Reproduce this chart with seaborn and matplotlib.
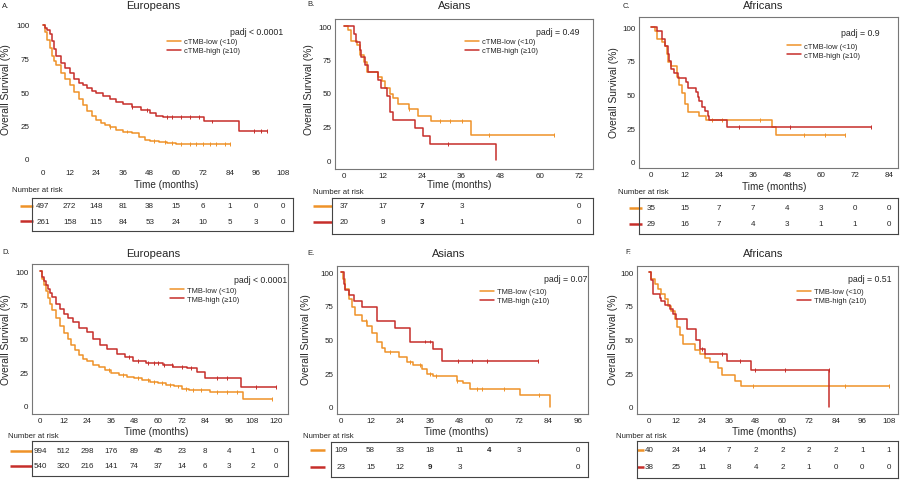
import numpy as np
import pandas as pd
import matplotlib
matplotlib.use("Agg")
import matplotlib.pyplot as plt
import seaborn as sns

sns.set_style("white")
plt.rcParams["font.family"] = ["Liberation Sans", "DejaVu Sans"]

ORANGE = "#EF9228"
RED = "#C62E2A"
W, H = 900, 481

# %% curves (time in months, survival in %)
# A. Europeans, cTMB
A_low_t = [0, 1, 2, 3, 4, 5, 6, 8, 10, 12, 14, 16, 18, 20, 22, 24, 26, 28, 30, 33, 36, 40, 43, 46, 48, 52, 56, 60, 84]
A_low_s = [100, 95, 89, 83, 77, 73, 70, 64, 60, 55, 50, 45, 40, 36, 32, 29, 27, 25.5, 24, 22, 20.5, 19.5, 16.5, 14.5, 13.5, 12.8, 12, 11.5, 11.5]
A_high_t = [0, 1, 2, 3, 4, 5, 6, 8, 10, 12, 14, 16, 18, 20, 22, 24, 27, 30, 33, 36, 40, 44, 48, 51, 54, 72.4, 88, 101]
A_high_s = [100, 98, 96, 93, 88, 82, 77, 72, 68, 64, 60, 57, 55, 53, 51, 49.5, 47, 44.5, 42.5, 41, 38.5, 36.5, 34, 32, 31, 28, 20.6, 20.6]
A_low_cens = [30, 38, 50, 55, 58, 62, 66, 69, 72, 75, 78, 82, 84]
A_high_cens = [40, 47, 56, 58, 62, 66, 70, 76, 95, 98, 101]

# B. Asians, cTMB
B_low_t = [0, 1.2, 2, 4, 5, 6, 7, 10.4, 11.5, 12.5, 14, 15, 16.5, 20, 22.7, 26.8, 38.8, 64.3]
B_low_s = [100, 97, 89, 86, 78, 73, 66, 62, 59, 54, 49, 46, 42, 38, 33, 29, 19, 19]
B_high_t = [0, 3, 3.8, 4.8, 5.3, 6.3, 7.4, 10.4, 11.4, 13.3, 14, 14.9, 21.7, 24.1, 26.3, 46.7, 46.7]
B_high_s = [100, 94, 88, 82, 77, 71, 66, 60, 54, 48, 36, 30, 24, 18, 12, 12, 0]
B_low_cens = [20, 29.5, 32.5, 36, 44.5, 64.3]
B_high_cens = [31.8]

# C. Africans, cTMB
C_low_t = [0, 1.5, 2, 4, 5, 5.5, 6, 7, 9, 10, 11, 12, 13, 16.8, 19.5, 42.7, 44, 68.6]
C_low_s = [100, 97, 91, 89, 86, 80, 74, 71, 63, 57, 51, 43, 37, 34, 31, 26, 20, 20]
C_high_t = [0, 2, 4, 5, 6, 6.5, 7, 8, 9.5, 12.5, 13, 16, 16.5, 17, 18, 19, 20, 20.5, 26.9, 77.6]
C_high_s = [100, 97, 91, 86, 80, 75, 69, 66, 62, 59, 55, 52, 48, 45, 41, 38, 34, 31, 26, 26]
C_low_cens = [21.5, 25, 38.5, 54, 61.5, 68.6]
C_high_cens = [31, 49, 77.6]

# D. Europeans, TMB
D_low_t = [0, 1, 2, 3, 4, 5, 6, 8, 10, 12, 14, 16, 18, 20, 22, 24, 27, 30, 33, 36, 40, 44, 48, 52, 56, 60, 64, 68, 72, 76, 80, 86.4, 103.4, 117.8]
D_low_s = [100, 94, 90, 85, 80, 76, 71, 65, 59, 54, 49.5, 45, 41.5, 38, 35, 33, 30.5, 28.5, 26.5, 24.5, 23, 21.5, 20.3, 19, 17.9, 16.8, 15.5, 14.3, 12.5, 12, 11.7, 10.4, 5, 5]
D_high_t = [0, 1, 2, 3, 4, 5, 6, 8, 10, 12, 14, 17, 20, 23.7, 27, 30.5, 34, 39, 43, 47.5, 54, 62.7, 67.8, 74.6, 79.7, 83.9, 102, 120]
D_high_s = [100, 96, 93, 90, 87, 84, 81, 76, 72, 68.5, 65, 62, 58, 54.6, 50, 45, 42, 38.5, 36, 33.5, 31.8, 30.3, 28.5, 28, 24.8, 20.8, 13.6, 13.6]
D_low_cens = [35, 42, 50, 55, 58, 62, 66, 70, 74, 78, 82, 90, 95, 100, 117.8]
D_high_cens = [45, 50, 55, 58, 60, 63, 67, 72, 77, 90, 95, 110, 120]

# E. Asians, TMB
E_low_t = [0, 0.8, 1.75, 3.1, 4.4, 5.8, 8.5, 10.5, 12.5, 14.5, 16.6, 17.9, 23.3, 26.6, 29.3, 32.7, 34.7, 37.4, 46.8, 49.5, 52.2, 72.4, 84.5, 84.5]
E_low_s = [100, 95, 87.6, 80, 74, 68, 64, 60, 55, 48, 44, 40.4, 36.7, 33, 31, 28, 24.3, 22.6, 19.4, 17.6, 13.2, 8.9, 8.9, 0]
E_high_t = [0, 1.1, 1.75, 3.1, 5.1, 8.5, 14.5, 21.9, 28, 37.4, 40.8, 79.8]
E_high_s = [100, 91, 87, 83, 78.7, 74, 63.5, 58.6, 48.5, 43, 34, 34]
E_low_cens = [10, 20, 28, 32, 36, 38.5, 47, 55, 57, 66, 80]
E_high_cens = [34, 36, 47.5, 53, 59, 79.8]

# F. Africans, TMB
F_low_t = [0, 1, 2.6, 4, 5.6, 7, 8.6, 10, 11.6, 12.6, 13.8, 15.3, 20.5, 22.9, 25, 27.4, 31, 32.7, 38.6, 41.6, 108]
F_low_s = [100, 95, 91, 87.6, 84, 80, 75, 71, 65, 59, 53, 47, 42, 39, 36, 33, 29, 23.6, 19.4, 15.6, 15.6]
F_high_t = [0, 1, 1.8, 4.8, 5.6, 7, 9.3, 10.8, 12.3, 17.1, 21.3, 22.8, 25, 34.9, 46, 81.2, 81.2]
F_high_s = [100, 94, 84, 81, 79, 76, 73, 69, 65, 58, 50, 43, 39, 34, 27.6, 27.6, 0]
F_low_cens = [47, 88, 108]
F_high_cens = [24, 33, 41, 47.5, 61, 81]

# %% numbers at risk (None = blank cell)
A_risk_low = [497, 272, 148, 81, 38, 15, 6, 1, 0, 0]
A_risk_high = [261, 158, 115, 84, 53, 24, 10, 5, 3, 0]
B_risk_low = [37, 17, 7, 3, None, None, 0]
B_risk_high = [20, 9, 3, 1, None, None, 0]
C_risk_low = [35, 15, 7, 7, 4, 3, 0, 0]
C_risk_high = [29, 16, 7, 4, 3, 1, 1, 0]
D_risk_low = [994, 512, 298, 176, 89, 45, 23, 8, 4, 1, 0]
D_risk_high = [540, 320, 216, 141, 74, 37, 14, 6, 3, 2, 0]
E_risk_low = [109, 58, 33, 18, 11, 4, 3, None, 0]
E_risk_high = [23, 15, 12, 9, 3, None, None, None, 0]
F_risk_low = [40, 24, 14, 7, 2, 2, 2, 2, 1, 1]
F_risk_high = [38, 25, 11, 8, 4, 2, 1, 0, 0, 0]

titles = ["Europeans", "Asians", "Africans", "Europeans", "Asians", "Africans"]
letters = ["A.", "B.", "C.", "D.", "E.", "F."]
pvals = ["padj < 0.0001", "padj = 0.49", "padj = 0.9", "padj < 0.0001", "padj = 0.07", "padj = 0.51"]
xmax = [108, 72, 84, 120, 96, 108]

panels = [
    (A_low_t, A_low_s, A_high_t, A_high_s, A_low_cens, A_high_cens, A_risk_low, A_risk_high),
    (B_low_t, B_low_s, B_high_t, B_high_s, B_low_cens, B_high_cens, B_risk_low, B_risk_high),
    (C_low_t, C_low_s, C_high_t, C_high_s, C_low_cens, C_high_cens, C_risk_low, C_risk_high),
    (D_low_t, D_low_s, D_high_t, D_high_s, D_low_cens, D_high_cens, D_risk_low, D_risk_high),
    (E_low_t, E_low_s, E_high_t, E_high_s, E_low_cens, E_high_cens, E_risk_low, E_risk_high),
    (F_low_t, F_low_s, F_high_t, F_high_s, F_low_cens, F_high_cens, F_risk_low, F_risk_high),
]
bold_cells = {1: [(0, 2), (1, 2)], 4: [(0, 5), (1, 3)]}

# %% layout in pixels of the reference
# plot box (l, t, r, b), x of 0, x of xmax, y of 100, y of 0
plot_box = [(33, 19, 290, 167, 43, 283, 26, 160),
            (335, 20, 593, 170, 344, 579, 27, 161),
            (639, 18, 898, 169, 651, 889, 28.3, 162.7),
            (32, 265, 288, 415, 40, 276, 272.3, 406.7),
            (337, 267, 588, 415, 341, 578, 273.3, 407.7),
            (637, 267, 898, 415, 649, 889, 273.3, 407.7)]
# table box (l, t, r, b), row y's, dash x's
table_box = [(32, 199, 293, 232, 207, 222, 20, 33),
             (332, 199, 593, 235, 206.7, 222.7, 313, 332),
             (639, 199, 898, 235, 209, 225, 629, 642),
             (32, 442, 288, 477, 451.7, 466.7, 10, 32),
             (331, 443, 588, 478, 451, 467.7, 310, 325),
             (637, 442, 898, 479, 451, 468, 637, 644)]
title_xy = [(153, 6), (455, 6), (763, 6), (153, 254), (449, 254), (763, 254)]
letter_xy = [(2, 6), (307, 5), (623, 6), (2, 253), (307, 254), (625, 253)]
ylab_xy = [(6, 90), (309, 90), (614, 93), (6, 340), (306, 340), (613, 340)]
xlab_xy = [(166, 185), (459, 185), (774, 187), (156, 432), (456, 432), (764, 432)]
nrisk_xy = [(12, 191), (313, 192), (618, 193), (8, 436), (303, 436), (616, 437)]
padj_xy = [(283, 33), (580, 33), (880, 34), (287, 281), (587, 280), (892, 280)]
leg_xy = [(167, 39), (465, 39), (787, 43.5), (170, 287.5), (480, 289), (797, 289)]


def fx(x):
    return x / W


def fy(y):
    return 1 - y / H


def step_value(t, s, x):
    i = np.searchsorted(t, x, side="right") - 1
    return s[max(i, 0)]


fig = plt.figure(figsize=(9, 4.81), dpi=100)

for i, (lt, ls, ht, hs, lc, hc, rl, rh) in enumerate(panels):
    pref = "cTMB" if i < 3 else "TMB"
    lab_low = f"{pref}-low (<10)"
    lab_high = f"{pref}-high (\u226510)"
    l, t, r, b, x0, x1, y100, y0 = plot_box[i]
    ppm = (x1 - x0) / xmax[i]
    pps = (y0 - y100) / 100

    ax = fig.add_axes([fx(l), fy(b), (r - l) / W, (b - t) / H])
    curves = pd.concat([
        pd.DataFrame({"time": lt, "surv": ls, "group": lab_low}),
        pd.DataFrame({"time": ht, "surv": hs, "group": lab_high}),
    ])
    cens = pd.concat([
        pd.DataFrame({"time": lc, "surv": [step_value(lt, ls, c) for c in lc], "group": lab_low}),
        pd.DataFrame({"time": hc, "surv": [step_value(ht, hs, c) for c in hc], "group": lab_high}),
    ])
    pal = {lab_low: ORANGE, lab_high: RED}
    sns.lineplot(data=curves, x="time", y="surv", hue="group", palette=pal,
                 estimator=None, sort=False, drawstyle="steps-post",
                 linewidth=1.1, ax=ax)
    sns.scatterplot(data=cens, x="time", y="surv", hue="group", palette=pal,
                    marker="|", s=8, linewidth=0.7, legend=False, ax=ax)

    ax.set_xlim((l - x0) / ppm, (r - x0) / ppm)
    ax.set_ylim((y0 - b) / pps, (y0 - t) / pps)
    ax.set_xticks(np.arange(0, xmax[i] + 1, 12))
    ax.set_yticks([0, 25, 50, 75, 100])
    ax.set_xlabel("")
    ax.set_ylabel("")
    ax.tick_params(axis="both", labelsize=5.8, length=1.8, width=0.6,
                   color="#555555", labelcolor="#222222", pad=0.8)
    ax.tick_params(axis="x", pad=0.2)
    for sp in ax.spines.values():
        sp.set_color("#777777")
        sp.set_linewidth(0.8)
        sp.set_visible(i != 0)

    lx, ly = leg_xy[i]
    sns.move_legend(ax, "upper left", bbox_to_anchor=(fx(lx), fy(ly)),
                    bbox_transform=fig.transFigure, frameon=False, title=None,
                    fontsize=5.4, handlelength=1.8, handletextpad=0.45,
                    labelspacing=0.25, borderpad=0, borderaxespad=0)

    fig.text(fx(padj_xy[i][0]), fy(padj_xy[i][1]), pvals[i], ha="right",
             va="center", fontsize=6.3)
    fig.text(fx(title_xy[i][0]), fy(title_xy[i][1]), titles[i], ha="center",
             va="center", fontsize=8)
    fig.text(fx(letter_xy[i][0]), fy(letter_xy[i][1]), letters[i], ha="left",
             va="center", fontsize=5.5)
    fig.text(fx(ylab_xy[i][0]), fy(ylab_xy[i][1]), "Overall Survival (%)",
             rotation=90, ha="center", va="center", fontsize=7.4)
    fig.text(fx(xlab_xy[i][0]), fy(xlab_xy[i][1]), "Time (months)",
             ha="center", va="center", fontsize=7.2)
    fig.text(fx(nrisk_xy[i][0]), fy(nrisk_xy[i][1]), "Number at risk",
             ha="left", va="center", fontsize=5.6)

    # risk table
    tl, tt, tr, tb, ry1, ry2, dx0, dx1 = table_box[i]
    tax = fig.add_axes([fx(tl), fy(tb), (tr - tl) / W, (tb - tt) / H])
    tax.set_xlim((tl - x0) / ppm, (tr - x0) / ppm)
    tax.set_ylim(0, 1)
    tax.set_xticks([])
    tax.set_yticks([])
    for sp in tax.spines.values():
        sp.set_color("#444444")
        sp.set_linewidth(0.8)
    ticks = np.arange(0, xmax[i] + 1, 12)
    bolds = bold_cells.get(i, [])
    for row, (vals, ry, col) in enumerate([(rl, ry1, ORANGE), (rh, ry2, RED)]):
        yf = (tb - ry) / (tb - tt)
        for j, (tk, v) in enumerate(zip(ticks, vals)):
            if v is None:
                continue
            tax.text(tk, yf, str(v), ha="center", va="center", fontsize=5.8,
                     fontweight="bold" if (row, j) in bolds else "normal")
        tax.plot([(dx0 - tl) / (tr - tl), (dx1 - tl) / (tr - tl)], [yf, yf],
                 color=col, lw=1.8, transform=tax.transAxes, clip_on=False,
                 solid_capstyle="butt")

fig.savefig("out.png", dpi=100)
